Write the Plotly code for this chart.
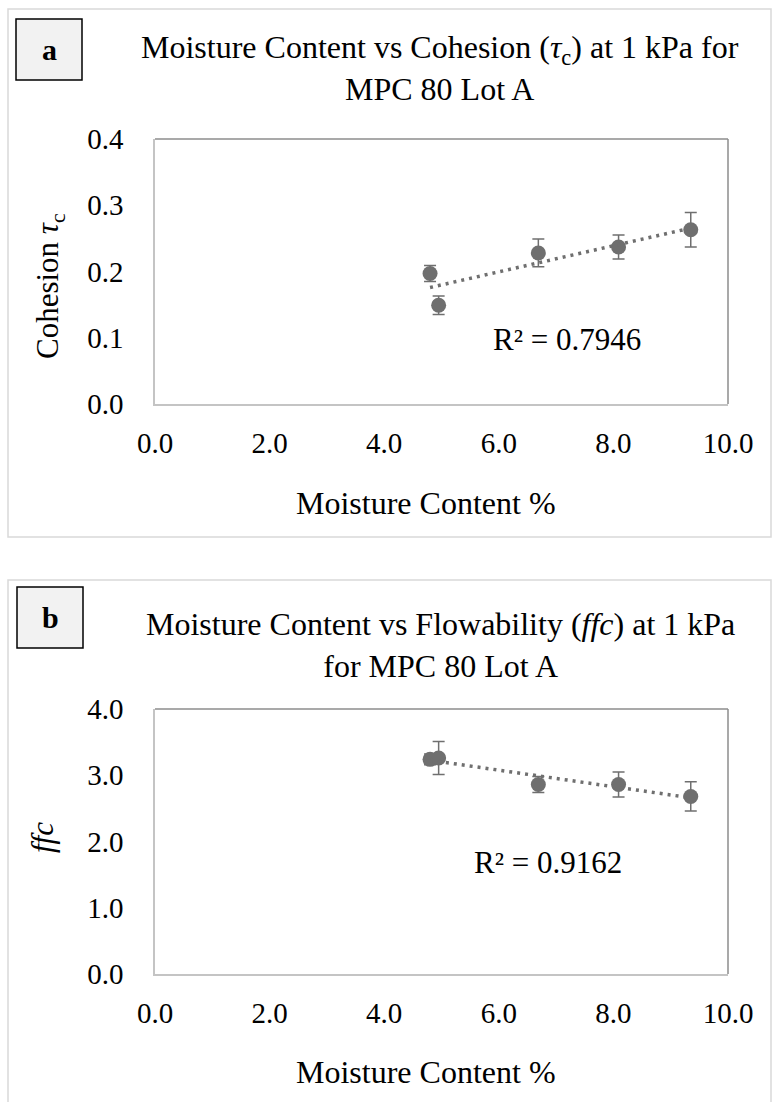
import numpy as np
import plotly.graph_objects as go

# Moisture content of each sample (%)
moisture = [4.80, 4.95, 6.69, 8.09, 9.35]

# Panel a: cohesion at 1 kPa with standard deviations
cohesion = [0.197, 0.149, 0.228, 0.237, 0.263]
cohesion_err = [0.012, 0.014, 0.021, 0.018, 0.026]

# Panel b: flowability ffc at 1 kPa with standard deviations
ffc = [3.24, 3.26, 2.86, 2.86, 2.68]
ffc_err = [0.08, 0.25, 0.12, 0.19, 0.22]

r2_labels = ["R² = 0.7946", "R² = 0.9162"]
x_ticks = [0, 2, 4, 6, 8, 10]
y_ticks_a = [0.0, 0.1, 0.2, 0.3, 0.4]
y_ticks_b = [0.0, 1.0, 2.0, 3.0, 4.0]

W, H = 773, 1102
FONT = "Liberation Serif, Times New Roman, serif"
GREY = "#6f6f6f"


def px(x):
    return x / W


def py(y):
    return 1 - y / H


fig = go.Figure()


def add_panel(idx, y, yerr):
    xa = "x" if idx == 1 else "x2"
    ya = "y" if idx == 1 else "y2"
    fig.add_trace(go.Scatter(
        x=moisture, y=y, mode="markers", xaxis=xa, yaxis=ya,
        marker=dict(size=15, color=GREY),
        error_y=dict(type="data", array=yerr, visible=True,
                     color=GREY, thickness=1.5, width=6),
        showlegend=False,
    ))
    # linear trendline across the measured range
    slope, icpt = np.polyfit(moisture, y, 1)
    xs = np.array([min(moisture), max(moisture)])
    fig.add_trace(go.Scatter(
        x=xs, y=slope * xs + icpt, mode="lines", xaxis=xa, yaxis=ya,
        line=dict(color=GREY, width=3.5, dash="3px,5px"),
        showlegend=False, hoverinfo="skip",
    ))


add_panel(1, cohesion, cohesion_err)
add_panel(2, ffc, ffc_err)

# plot areas in pixel units: (left, top, right, bottom)
areas = {1: (155, 139, 728, 404), 2: (155, 709, 728, 974)}

axis_common = dict(
    showgrid=False, zeroline=False, showline=True, linecolor="#c4c4c4",
    linewidth=1.5, ticks="", tickfont=dict(family=FONT, size=29, color="black"),
    tickformat=".1f", automargin=False,
)

for i, (l, t, r, b) in areas.items():
    xkey = "xaxis" if i == 1 else "xaxis2"
    ykey = "yaxis" if i == 1 else "yaxis2"
    fig.update_layout({
        xkey: dict(axis_common, domain=[px(l), px(r)], range=[0, 10],
                   tickvals=x_ticks, anchor="y" if i == 1 else "y2",
                   ticklabelstandoff=12),
        ykey: dict(axis_common, domain=[py(b), py(t)],
                   range=[0, 0.4] if i == 1 else [0, 4],
                   tickvals=y_ticks_a if i == 1 else y_ticks_b,
                   anchor="x" if i == 1 else "x2", ticklabelstandoff=24),
    })

shapes = []
# outer panel frames
shapes.append(dict(type="rect", xref="paper", yref="paper",
                   x0=px(8), x1=px(771), y0=py(537), y1=py(9),
                   line=dict(color="#d9d9d9", width=1.5), layer="below"))
shapes.append(dict(type="rect", xref="paper", yref="paper",
                   x0=px(8), x1=px(771), y0=py(1110), y1=py(580),
                   line=dict(color="#d9d9d9", width=1.5), layer="below"))
# darker top and right edges of each plot area
for i, (l, t, r, b) in areas.items():
    shapes.append(dict(type="line", xref="paper", yref="paper",
                       x0=px(l), x1=px(r), y0=py(t), y1=py(t),
                       line=dict(color="#8c8c8c", width=1.5)))
    shapes.append(dict(type="line", xref="paper", yref="paper",
                       x0=px(r), x1=px(r), y0=py(t), y1=py(b),
                       line=dict(color="#8c8c8c", width=1.5)))
# panel letter boxes
boxes = {"a": (16, 19, 82, 80), "b": (17, 587, 83, 648)}
for k, (x0, y0, x1, y1) in boxes.items():
    shapes.append(dict(type="rect", xref="paper", yref="paper",
                       x0=px(x0), x1=px(x1), y0=py(y1), y1=py(y0),
                       fillcolor="#f2f2f2", line=dict(color="black", width=1.5)))

annotations = []


def label(text, xc, yc, size, angle=0):
    annotations.append(dict(text=text, x=px(xc), y=py(yc), xref="paper", yref="paper",
                            xanchor="center", yanchor="middle", showarrow=False,
                            align="center", textangle=angle,
                            font=dict(family=FONT, size=size, color="black")))


for k, (x0, y0, x1, y1) in boxes.items():
    label(f"<b>{k}</b>", (x0 + x1) / 2, (y0 + y1) / 2, 30)

label("Moisture Content vs Cohesion (<i>τ</i><sub>c</sub>) at 1 kPa for<br>MPC 80 Lot A",
      440, 68, 32)
label("Moisture Content vs Flowability (<i>ffc</i>) at 1 kPa<br>for MPC 80 Lot A",
      440, 645, 32)

# x axis titles
label("Moisture Content %", 426, 503, 32)
label("Moisture Content %", 426, 1072, 32)
# y axis titles
label("Cohesion <i>τ</i><sub>c</sub>", 50, 286, 31, -90)
label("<i>ffc</i>", 42, 838, 31, -90)
# R² labels
label(r2_labels[0], 567, 339, 31)
label(r2_labels[1], 548, 862, 31)

fig.update_layout(
    width=W, height=H, margin=dict(l=0, r=0, t=0, b=0),
    paper_bgcolor="white", plot_bgcolor="white",
    shapes=shapes, annotations=annotations,
)

fig.write_html("out.html")
